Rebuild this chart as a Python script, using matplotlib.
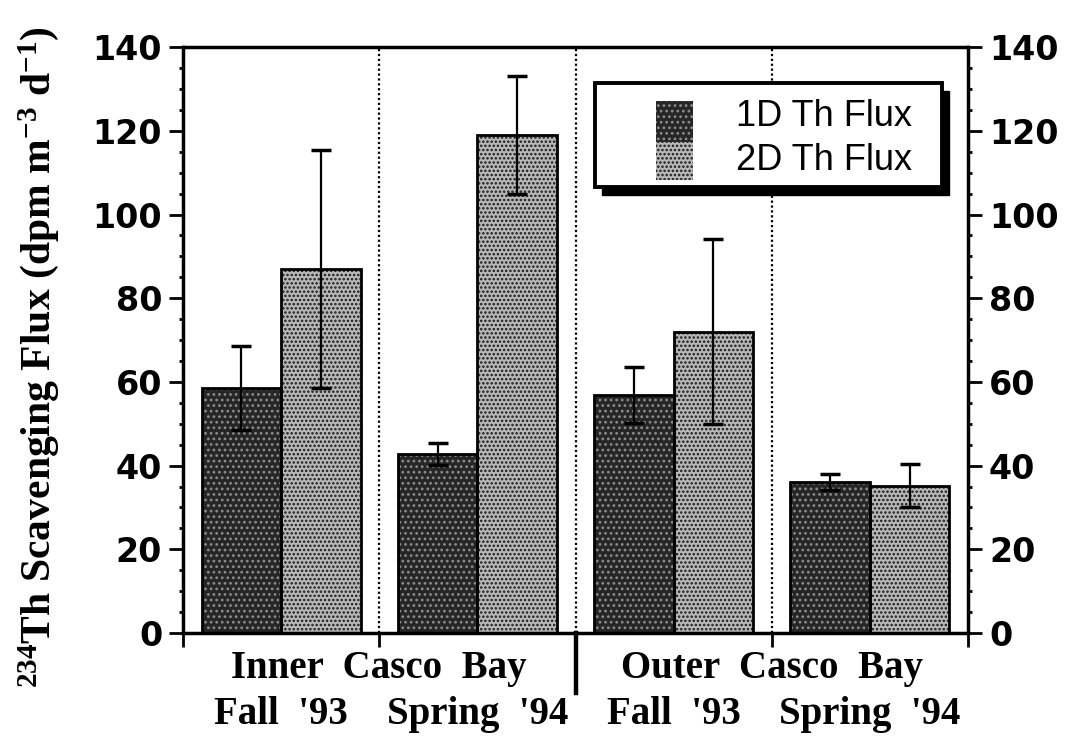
import matplotlib
matplotlib.use("Agg")
import matplotlib.pyplot as plt
import numpy as np
from matplotlib.patches import Rectangle
from matplotlib.transforms import blended_transform_factory

# Scavenging flux values and their uncertainties for each site/season
seasons = ["Fall '93", "Spring '94", "Fall '93", "Spring '94"]
regions = ["Inner Casco Bay", "Outer Casco Bay"]
flux_1d = [58.5, 42.8, 56.9, 36.1]
err_1d = [10.0, 2.6, 6.6, 1.9]
flux_2d = [87.0, 119.0, 72.0, 35.2]
err_2d = [28.5, 14.2, 22.1, 5.2]
series_names = ["1D Th Flux", "2D Th Flux"]
y_ticks = [0, 20, 40, 60, 80, 100, 120, 140]

plt.rcParams["mathtext.fontset"] = "custom"
plt.rcParams["mathtext.rm"] = "Liberation Serif:bold"
plt.rcParams["mathtext.it"] = "Liberation Serif:bold"
plt.rcParams["mathtext.bf"] = "Liberation Serif:bold"
plt.rcParams["hatch.linewidth"] = 1.2

fig = plt.figure(figsize=(10.65, 7.37), dpi=100)
ax = fig.add_axes([0.1718, 0.1411, 0.909 - 0.1718, 0.936 - 0.1411])

x = np.arange(len(seasons))
w = 0.405
dark, dark_dots = "#262626", "#8c8c8c"
light, light_dots = "#b8b8b8", "#1a1a1a"

# filled bodies with stipple textures
ax.bar(x - w / 2, flux_1d, w, color=dark, hatch="...", edgecolor=dark_dots, linewidth=0, zorder=2)
ax.bar(x + w / 2, flux_2d, w, color=light, hatch="....", edgecolor=light_dots, linewidth=0, zorder=2)
# outlines
ax.bar(x - w / 2, flux_1d, w, fill=False, edgecolor="black", linewidth=2, zorder=3)
ax.bar(x + w / 2, flux_2d, w, fill=False, edgecolor="black", linewidth=2, zorder=3)

ekw = dict(fmt="none", ecolor="black", elinewidth=1.6, capsize=7, capthick=2.5, zorder=4)
ax.errorbar(x - w / 2, flux_1d, yerr=err_1d, **ekw)
ax.errorbar(x + w / 2, flux_2d, yerr=err_2d, **ekw)

# dotted separators between seasons
for b in [0.5, 1.5, 2.5]:
    ax.axvline(b, color="black", ls=(0, (1, 1.2)), lw=1.6, zorder=1)
# heavy divider between the two regions, below the axis
ax.axvline(1.5, ymin=-0.103, ymax=0, color="black", lw=3.2, clip_on=False, zorder=5)

ax.set_xlim(-0.5, 3.5)
ax.set_ylim(0, 140)

for s in ax.spines.values():
    s.set_linewidth(2.5)

ax.set_xticks([-0.5, 0.5, 1.5, 2.5, 3.5])
ax.set_xticklabels([])
ax.tick_params(axis="x", which="major", direction="out", length=10, width=2)
ax.set_xticks(x, minor=True)
ax.set_xticklabels([s.replace(" ", "  ") for s in seasons], minor=True,
                   fontfamily="Liberation Serif", fontweight="bold", fontsize=28)
ax.tick_params(axis="x", which="minor", length=0, pad=45)

ax.set_yticks(y_ticks)
ax.set_yticks(np.arange(0, 141, 5), minor=True)
ax.tick_params(axis="y", which="major", direction="out", length=10, width=2,
               labelsize=24, pad=5)
ax.tick_params(axis="y", which="minor", direction="out", length=3, width=2)
for t in ax.get_yticklabels():
    t.set_fontweight("bold")
    t.set_fontfamily("DejaVu Sans")

ax2 = ax.twinx()
ax2.set_ylim(ax.get_ylim())
ax2.set_yticks(y_ticks)
ax2.set_yticks(np.arange(0, 141, 5), minor=True)
ax2.tick_params(axis="y", which="major", direction="out", length=10, width=2,
                labelsize=24, pad=5)
ax2.tick_params(axis="y", which="minor", direction="out", length=3, width=2)
for t in ax2.get_yticklabels():
    t.set_fontweight("bold")
    t.set_fontfamily("DejaVu Sans")
for s in ax2.spines.values():
    s.set_visible(False)

# region names on the first label row
trans = blended_transform_factory(ax.transData, ax.transAxes)
for cx, name in zip([0.5, 2.5], regions):
    ax.text(cx, -0.06, name.replace(" ", "  "), transform=trans, ha="center", va="center",
            fontfamily="Liberation Serif", fontweight="bold", fontsize=28)

ax.set_ylabel(r"$^{234}$Th Scavenging Flux (dpm m$^{-3}$ d$^{-1}$)",
              fontfamily="Liberation Serif", fontweight="bold", fontsize=30)
ax.yaxis.set_label_coords(-0.155, 0.47)

# legend panel with a solid drop shadow
sh = Rectangle((0.534, 0.748), 0.442, 0.178, transform=ax.transAxes,
               facecolor="black", edgecolor="black", zorder=6, clip_on=False)
box = Rectangle((0.525, 0.761), 0.442, 0.178, transform=ax.transAxes,
                facecolor="white", edgecolor="black", linewidth=2.8, zorder=7, clip_on=False)
ax.add_patch(sh)
ax.add_patch(box)
sw_kw = dict(transform=ax.transAxes, zorder=8, linewidth=0)
ax.add_patch(Rectangle((0.603, 0.838), 0.046, 0.07, facecolor=dark, hatch="...",
                       edgecolor=dark_dots, **sw_kw))
ax.add_patch(Rectangle((0.603, 0.773), 0.046, 0.065, facecolor=light, hatch="....",
                       edgecolor=light_dots, **sw_kw))
ax.text(0.705, 0.882, series_names[0], transform=ax.transAxes, fontsize=26,
        fontfamily="Liberation Sans", va="center", ha="left", zorder=9)
ax.text(0.705, 0.806, series_names[1], transform=ax.transAxes, fontsize=26,
        fontfamily="Liberation Sans", va="center", ha="left", zorder=9)

fig.savefig("out.png", dpi=100)
